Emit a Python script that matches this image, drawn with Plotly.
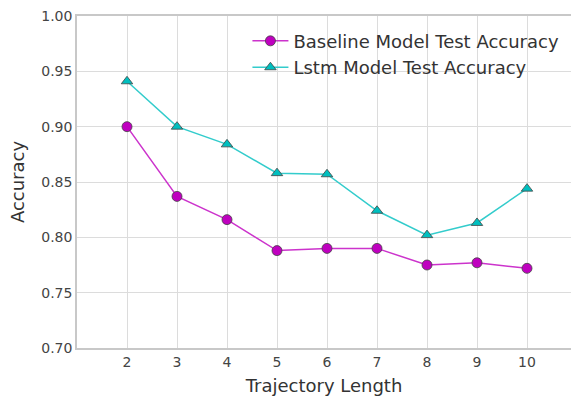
import plotly.graph_objects as go

trajectory_length = [2, 3, 4, 5, 6, 7, 8, 9, 10]
baseline_acc = [0.900, 0.837, 0.816, 0.788, 0.790, 0.790, 0.775, 0.777, 0.772]
lstm_acc = [0.941, 0.900, 0.884, 0.858, 0.857, 0.824, 0.802, 0.813, 0.844]
y_ticks = [0.70, 0.75, 0.80, 0.85, 0.90, 0.95, 1.00]
x_ticks = [2, 3, 4, 5, 6, 7, 8, 9, 10]

fig = go.Figure()
fig.add_trace(go.Scatter(
    x=trajectory_length, y=baseline_acc, mode="lines+markers",
    name="Baseline Model Test Accuracy",
    line=dict(color="#cc33cc", width=1.5),
    marker=dict(symbol="circle", size=10, color="#bf00bf",
                line=dict(color="#444444", width=0.8)),
))
fig.add_trace(go.Scatter(
    x=trajectory_length, y=lstm_acc, mode="lines+markers",
    name="Lstm Model Test Accuracy",
    line=dict(color="#33cccc", width=1.5),
    marker=dict(symbol="triangle-up", size=10, color="#00bfbf",
                line=dict(color="#444444", width=0.8)),
))

axis_common = dict(
    showgrid=True, gridcolor="#dcdcdc", gridwidth=1,
    showline=True, linecolor="#c8c8c8", linewidth=1.5, mirror=True,
    ticks="", zeroline=False, automargin=False,
    tickfont=dict(family="DejaVu Sans", size=14, color="#444444"),
)

fig.update_layout(
    width=571, height=398,
    margin=dict(l=77, r=0, t=16, b=50),
    paper_bgcolor="white", plot_bgcolor="white",
    font=dict(family="DejaVu Sans", color="#333333"),
    xaxis=dict(range=[1, 10.88], tickvals=x_ticks,
               title=dict(text="Trajectory Length", font=dict(size=18, color="#333333"), standoff=11),
               **axis_common),
    yaxis=dict(range=[0.70, 1.00], tickvals=y_ticks, tickformat=".2f",
               title=dict(text="Accuracy", font=dict(size=18, color="#333333"), standoff=12),
               **axis_common),
    legend=dict(x=0.345, y=0.98, xanchor="left", yanchor="top",
                font=dict(size=18, color="#333333"), bgcolor="rgba(0,0,0,0)",
                itemwidth=36, tracegroupgap=0),
    showlegend=True,
)

fig.write_html("out.html", config={"displayModeBar": False},
               post_script="document.body.style.margin='0';document.body.style.overflow='hidden';")
